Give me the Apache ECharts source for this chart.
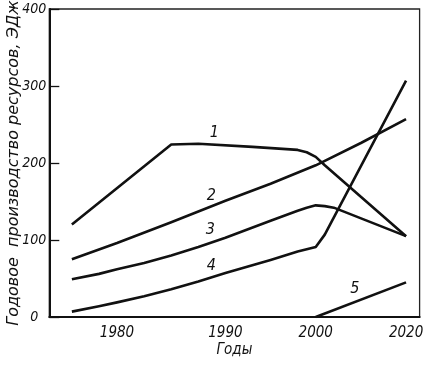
<!DOCTYPE html>
<html><head><meta charset="utf-8">
<script src="https://cdn.jsdelivr.net/npm/echarts@6/dist/echarts.min.js"></script>
<style>html,body{margin:0;padding:0;background:#fff}#c{width:424px;height:365px}</style>
</head><body><div id="c"></div>
<script>
// x categories: evenly spaced steps along the (non-linear) drawn time axis
const years = ['1974.2','1975.0','1975.8','1976.7','1977.5','1978.3','1979.2',
  '1980','1980.8','1981.7','1982.5','1983.3','1984.2','1985','1985.8','1986.7','1987.5','1988.3','1989.2',
  '1990','1991','1992','1993','1994','1995','1996','1997','1998','1999',
  '2000','2002','2004','2006','2008','2010','2012','2014','2016','2018','2020','2022'];
const xTickLabels = ['1980','1990','2000','2020'];
const yMin = 0, yMax = 400, yStep = 100;

// annual resource production, EJ
const line1 = [['1975.8',120],['1985',224],['1987.5',225],['1993',221],['1998',217],['1999',214],['2000',208],['2002',197],['2020',105]];
const line2 = [['1975.8',75],['1980',96],['1985',123],['1990',151],['1995',173],['2000',197],['2010',226],['2020',257]];
const line3 = [['1975.8',49],['1978.3',56],['1980',62],['1982.5',70],['1985',80],['1987.5',91],['1990',103],['1995',125],['1998',138],['1999',142],['2000',145],['2002',144],['2004',142],['2020',105]];
const line4 = [['1975.8',7],['1978.3',14],['1980',19],['1982.5',27],['1985',36],['1987.5',46],['1990',57],['1995',74],['1998',85],['1999',88],['2000',91],['2002',107],['2020',307]];
const line5 = [['2000',0],['2020',45]];
const lineNames = ['1','2','3','4','5'];

const NUM_FONT = '"Liberation Sans Narrow", "DejaVu Sans Condensed", sans-serif';
const TXT_FONT = '"DejaVu Sans", sans-serif';
const INK = '#111';

function lineSeries(name, data, labelAt, labelVal, offset) {
  return {
    name: name, type: 'line', data: data, symbol: 'none', smooth: false,
    lineStyle: {color: INK, width: 2.6, join: 'round'},
    markPoint: {
      symbol: 'circle', symbolSize: 1, itemStyle: {color: 'rgba(0,0,0,0)'},
      label: {show: true, position: 'inside', offset: offset, formatter: name,
        fontFamily: NUM_FONT, fontStyle: 'italic', fontSize: 16, color: INK},
      data: [{coord: [labelAt, labelVal]}]
    }
  };
}

const chart = echarts.init(document.getElementById('c'), null, {renderer: 'canvas'});
chart.setOption({
  animation: false,
  backgroundColor: '#fff',
  grid: {left: 49.3, right: 4.4, top: 9, bottom: 48, show: true, borderColor: '#222', borderWidth: 1.3,
    containLabel: false, outerBoundsMode: 'none'},
  xAxis: {
    type: 'category', data: years, boundaryGap: true,
    axisLine: {lineStyle: {color: INK, width: 2}},
    axisTick: {inside: true, length: 11, alignWithLabel: true,
      interval: (i, v) => xTickLabels.includes(v), lineStyle: {color: INK, width: 1.3}},
    axisLabel: {interval: (i, v) => xTickLabels.includes(v), fontFamily: NUM_FONT,
      fontStyle: 'italic', fontSize: 15, color: INK, margin: 9},
    splitLine: {show: false},
    name: 'Годы', nameLocation: 'middle', nameGap: 26, nameMoveOverlap: false,
    nameTextStyle: {fontFamily: '"DejaVu Sans Condensed", sans-serif', fontStyle: 'italic', fontSize: 15, color: INK}
  },
  yAxis: {
    type: 'value', min: yMin, max: yMax, interval: yStep,
    axisLine: {show: true, lineStyle: {color: INK, width: 2}},
    axisTick: {show: true, inside: true, length: 10, lineStyle: {color: INK, width: 1.3}},
    axisLabel: {fontFamily: NUM_FONT, fontStyle: 'italic', fontSize: 14, color: INK, align: 'center', margin: 15},
    splitLine: {show: false},
    name: 'Годовое  производство ресурсов, ЭДж', nameLocation: 'middle', nameRotate: 90, nameGap: 27,
    nameMoveOverlap: false,
    nameTextStyle: {fontFamily: TXT_FONT, fontStyle: 'italic', fontSize: 16, color: INK}
  },
  series: [
    lineSeries(lineNames[0], line1, '1989.2', 222, [-2, -13]),
    lineSeries(lineNames[1], line2, '1988.3', 141, [4, -13]),
    lineSeries(lineNames[2], line3, '1988.3', 96, [3, -13]),
    lineSeries(lineNames[3], line4, '1988.3', 50, [4, -13]),
    lineSeries(lineNames[4], line5, '2008', 18, [3, -14])
  ]
});
</script></body></html>
